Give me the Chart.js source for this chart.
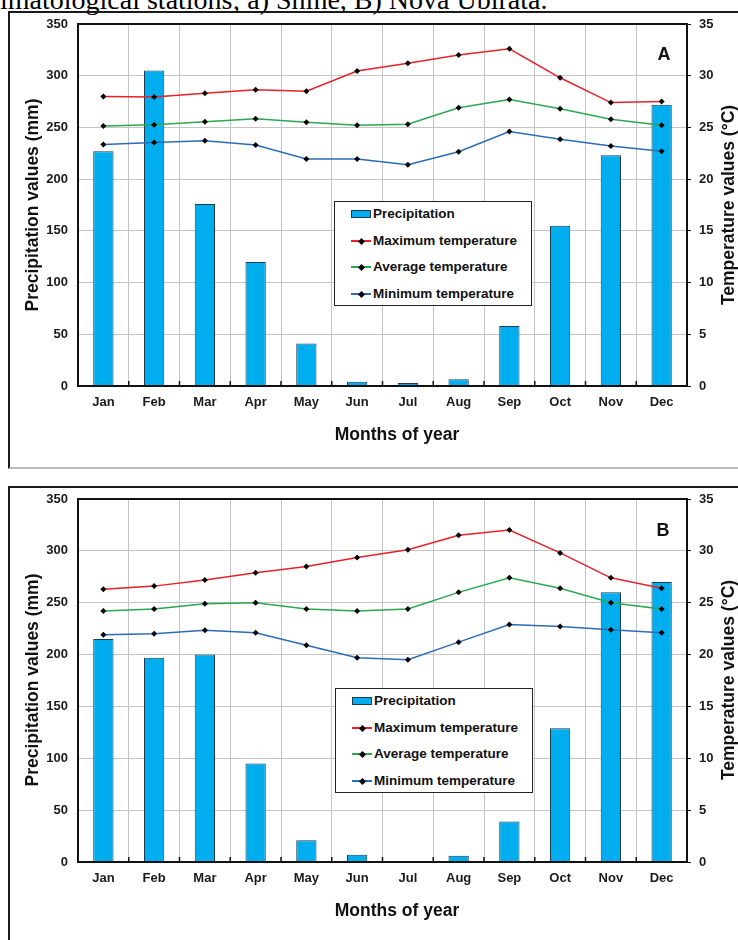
<!DOCTYPE html>
<html><head><meta charset="utf-8">
<script src="https://cdn.jsdelivr.net/npm/chart.js@4.4.0/dist/chart.umd.min.js"></script>
<style>
html,body{margin:0;padding:0;background:#fff;}
body{width:738px;height:940px;position:relative;overflow:hidden;font-family:"Liberation Sans",Arial,sans-serif;color:#111;}
.box{position:absolute;border:2px solid #1a1a1a;box-sizing:border-box;}
.cap{position:absolute;left:0;top:-14px;font-family:"Liberation Serif","Times New Roman",serif;font-size:28px;line-height:28px;white-space:nowrap;color:#000;}
.ttl{position:absolute;font-weight:bold;font-size:17.5px;white-space:nowrap;transform:translate(-50%,-50%);color:#111;}
.rot{transform:translate(-50%,-50%) rotate(-90deg);}
.letter{position:absolute;font-weight:bold;font-size:18px;transform:translate(-50%,-50%);color:#111;}
.legend{position:absolute;width:198px;height:105px;border:1.5px solid #222;box-sizing:border-box;background:#fff;}
.item{position:absolute;left:16px;height:16px;font-weight:bold;font-size:13.5px;line-height:16px;white-space:nowrap;color:#111;}
.sw{position:absolute;left:0;top:4px;width:20px;height:8px;}
.lt{position:absolute;left:22px;top:0;}
canvas{position:absolute;left:0;}
</style></head><body>
<div class="cap">imatological stations; a) Shine, B) Nova Ubirata.</div>
<div class="box" style="left:8px;top:11px;width:740px;height:458px;border-bottom-color:#bbb;"></div>
<div class="box" style="left:8px;top:486px;width:740px;height:470px;"></div>
<canvas id="cA" width="738" height="475" style="top:0"></canvas>
<canvas id="cB" width="738" height="465" style="top:475px"></canvas>
<div id="overlay"></div>
<script>
const months = ['Jan','Feb','Mar','Apr','May','Jun','Jul','Aug','Sep','Oct','Nov','Dec'];
const seriesNames = ['Precipitation','Maximum temperature','Average temperature','Minimum temperature'];
// Station A
const precipA = [227,305,176,120,41,4,3,6.5,58,155,223,272];
const tmaxA = [28.0,27.95,28.3,28.65,28.5,30.45,31.2,32.0,32.6,29.8,27.4,27.5];
const tavgA = [25.15,25.25,25.55,25.85,25.5,25.2,25.3,26.9,27.7,26.8,25.8,25.2];
const tminA = [23.35,23.55,23.7,23.3,21.95,21.95,21.4,22.65,24.6,23.85,23.2,22.7];
// Station B
const precipB = [215,197,200,95,21,7,0,6,39,129,260,270];
const tmaxB = [26.3,26.6,27.2,27.9,28.5,29.35,30.1,31.5,32.0,29.8,27.4,26.4];
const tavgB = [24.2,24.4,24.9,25.0,24.4,24.2,24.4,26.0,27.4,26.4,25.0,24.4];
const tminB = [21.9,22.0,22.35,22.1,20.9,19.7,19.5,21.2,22.9,22.7,22.4,22.1];
// Axes
const precTicks = [0,50,100,150,200,250,300,350];
const tempTicks = [0,5,10,15,20,25,30,35];

const colors = {bar:'#00aeef', barBorder:'#1c3b4f', max:'#e8202a', avg:'#2aa84f', min:'#2b6cb8'};
const tickFont = {family:'"Liberation Sans", Arial, sans-serif', size:13, weight:'bold'};

const framePlugin = {
  id:'frame',
  afterDatasetsDraw(chart){
    const {ctx, chartArea:a, scales} = chart;
    const x = scales.x;
    ctx.save();
    ctx.strokeStyle = '#111';
    ctx.lineWidth = 1.5;
    for (let i = 1; i < months.length; i++) {
      const px = (x.getPixelForValue(i-1) + x.getPixelForValue(i)) / 2;
      ctx.beginPath(); ctx.moveTo(px, a.bottom); ctx.lineTo(px, a.bottom - 5); ctx.stroke();
    }
    ctx.lineWidth = 2;
    ctx.strokeRect(a.left, a.top, a.right - a.left, a.bottom - a.top);
    ctx.restore();
  }
};

function lineDs(label, data, color){
  return {type:'line', label, data, yAxisID:'yT', borderColor:color, borderWidth:1.5, tension:0,
    pointStyle:'rectRot', pointRadius:3, pointBackgroundColor:'#000', pointBorderColor:'#000', pointBorderWidth:0, order:0, fill:false};
}

function makeChart(id, precip, tmax, tavg, tmin, xAxisH){
  return new Chart(document.getElementById(id), {
    type:'bar',
    data:{
      labels:months,
      datasets:[
        {type:'bar', label:seriesNames[0], data:precip, yAxisID:'yP', backgroundColor:colors.bar, borderColor:colors.barBorder,
          borderWidth:1, barPercentage:0.4, categoryPercentage:1, order:2},
        lineDs(seriesNames[1], tmax, colors.max),
        lineDs(seriesNames[2], tavg, colors.avg),
        lineDs(seriesNames[3], tmin, colors.min)
      ]
    },
    options:{
      responsive:false, animation:false, devicePixelRatio:1,
      layout:{padding:{left:0,right:0,top:24,bottom:0}},
      plugins:{legend:{display:false}, tooltip:{enabled:false}},
      scales:{
        x:{position:'bottom', offset:true,
          grid:{offset:true, color:'#c4c4c4', lineWidth:1, drawTicks:false},
          border:{display:true, color:'#111', width:2},
          ticks:{font:tickFont, color:'#1a1a1a', padding:9, maxRotation:0},
          afterFit(s){ s.height = xAxisH; }
        },
        yP:{position:'left', min:0, max:350,
          afterBuildTicks(s){ s.ticks = precTicks.map(v=>({value:v})); },
          grid:{color:'#c4c4c4', lineWidth:1, drawTicks:false},
          border:{display:true, color:'#111', width:2},
          ticks:{font:tickFont, color:'#1a1a1a', padding:10},
          afterFit(s){ s.width = 78; }
        },
        yT:{position:'right', min:0, max:35,
          afterBuildTicks(s){ s.ticks = tempTicks.map(v=>({value:v})); },
          grid:{drawOnChartArea:false, drawTicks:true, tickLength:4, tickColor:'#111'},
          border:{display:true, color:'#111', width:2},
          ticks:{font:tickFont, color:'#1a1a1a', padding:8},
          afterFit(s){ s.width = 51; }
        }
      }
    },
    plugins:[framePlugin]
  });
}

makeChart('cA', precipA, tmaxA, tavgA, tminA, 89);
makeChart('cB', precipB, tmaxB, tavgB, tminB, 78);

// HTML overlays: titles, letters, legends
const ov = document.getElementById('overlay');
function addDiv(cls, text, x, y){
  const d = document.createElement('div');
  d.className = cls; d.textContent = text;
  d.style.left = x + 'px'; d.style.top = y + 'px';
  ov.appendChild(d); return d;
}
const panels = [
  {letter:'A', ly:54, lx:664, plotMid:205, xTitleY:434, legTop:201, legLeft:334},
  {letter:'B', ly:530, lx:663, plotMid:680, xTitleY:910, legTop:688, legLeft:335}
];
const lineColors = [colors.max, colors.avg, colors.min];
panels.forEach(p => {
  addDiv('ttl rot', 'Precipitation values (mm)', 32, p.plotMid);
  addDiv('ttl rot', 'Temperature values (°C)', 728, p.plotMid);
  addDiv('ttl', 'Months of year', 397, p.xTitleY);
  addDiv('letter', p.letter, p.lx, p.ly);
  const leg = document.createElement('div');
  leg.className = 'legend';
  leg.style.left = p.legLeft + 'px'; leg.style.top = p.legTop + 'px';
  seriesNames.forEach((name, i) => {
    const it = document.createElement('div');
    it.className = 'item';
    it.style.top = Math.round(4 + i * 26.7) + 'px';
    const sw = document.createElement('div');
    sw.className = 'sw';
    if (i === 0) {
      sw.style.background = colors.bar; sw.style.border = '1px solid ' + colors.barBorder; sw.style.boxSizing = 'border-box';
    } else {
      sw.style.height = '2px'; sw.style.top = '7px';
      sw.style.background = lineColors[i-1];
      const dot = document.createElement('div');
      dot.style.cssText = 'position:absolute;left:8px;top:-1.5px;width:5px;height:5px;background:#000;transform:rotate(45deg);';
      sw.appendChild(dot);
    }
    const t = document.createElement('span');
    t.className = 'lt'; t.textContent = name;
    it.appendChild(sw); it.appendChild(t);
    leg.appendChild(it);
  });
  ov.appendChild(leg);
});
</script>
</body></html>
